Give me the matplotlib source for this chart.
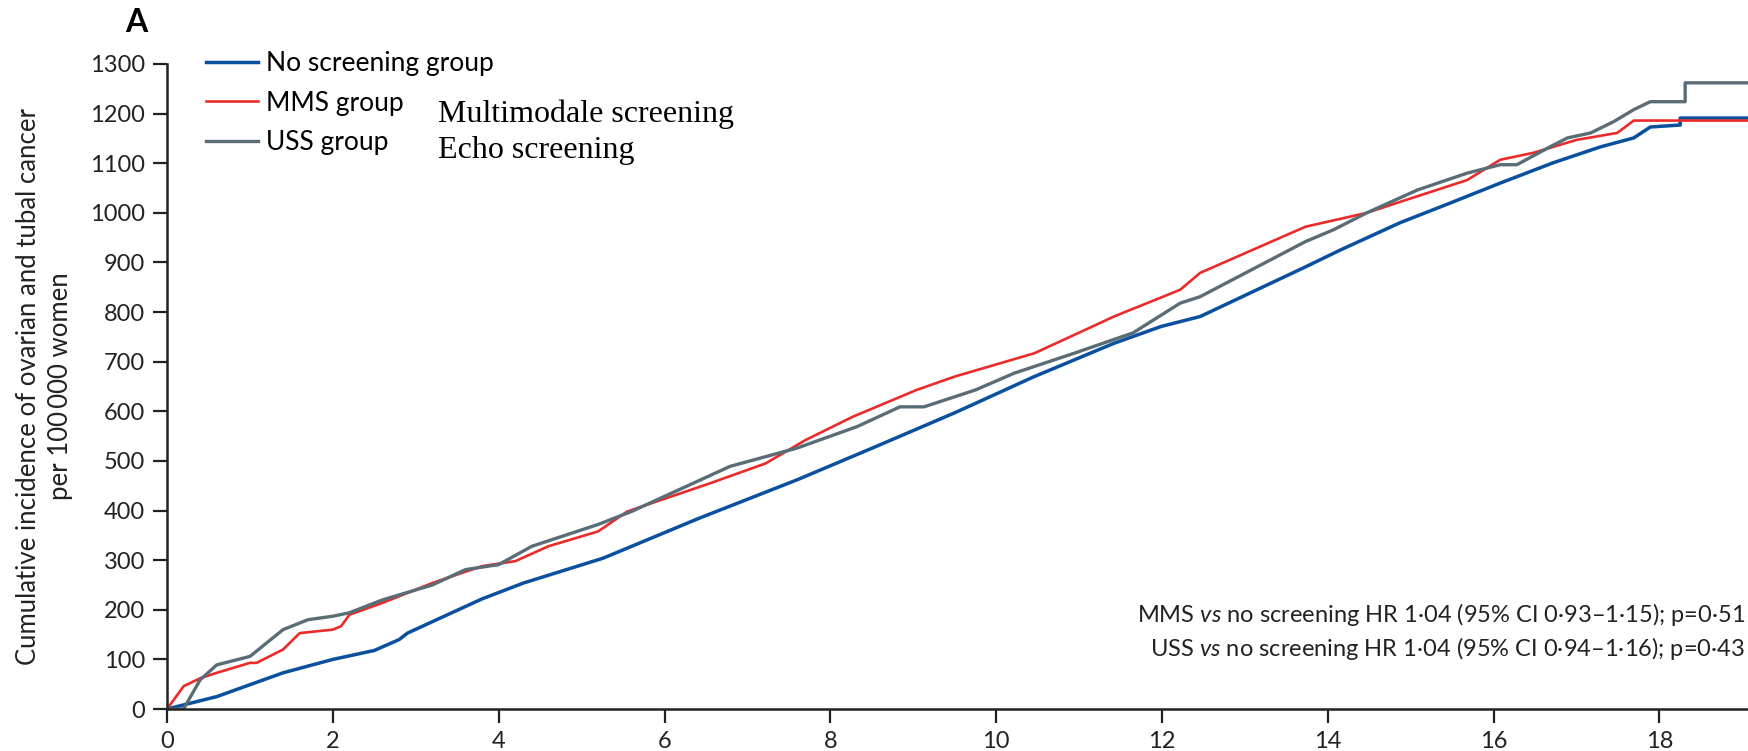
import matplotlib
matplotlib.use('Agg')
import matplotlib.pyplot as plt

# Cumulative incidence per 100 000 women
no_t = [0, 0.6, 1.4, 2.0, 2.5, 2.8, 2.9, 3.8, 4.3, 5.26, 6.41, 7.6, 8.55,
        9.5, 10.46, 11.42, 11.99, 12.46, 13.73, 14.15, 14.87, 15.48, 16.08,
        16.72, 17.29, 17.69, 17.89, 18.25, 18.25, 19.08]
no_y = [0, 25, 73, 100, 118, 140, 153, 222, 254, 304, 384, 462, 529,
        597, 670, 737, 771, 791, 891, 925, 980, 1020, 1060,
        1101, 1133, 1151, 1173, 1177, 1191, 1191]

mms_t = [0, 0.2, 0.4, 0.6, 1.0, 1.08, 1.4, 1.6, 2.0, 2.1, 2.2, 2.6, 3.2, 3.8,
         4.2, 4.6, 5.2, 5.55, 6.55, 7.22, 7.7, 8.27, 9.04, 9.5, 10.46, 10.89,
         11.42, 12.22, 12.46, 13.73, 14.47, 14.87, 15.68, 16.08, 16.48, 16.72,
         17.0, 17.49, 17.69, 19.08]
mms_y = [0, 46, 62, 73, 93, 93, 120, 153, 160, 167, 190, 214, 254, 288,
         298, 328, 358, 398, 455, 495, 542, 589, 643, 670, 717, 750,
         791, 845, 879, 972, 1000, 1022, 1066, 1107, 1121, 1133,
         1147, 1161, 1186, 1186]

uss_t = [0, 0.2, 0.24, 0.4, 0.6, 1.0, 1.2, 1.4, 1.7, 2.0, 2.2, 2.6, 3.2, 3.6,
         4.0, 4.4, 5.2, 5.6, 6.79, 7.6, 8.32, 8.84, 9.13, 9.75, 10.22, 10.94,
         11.65, 12.22, 12.46, 13.73, 14.07, 14.47, 15.08, 15.68, 16.08, 16.28,
         16.68, 16.89, 17.17, 17.45, 17.69, 17.89, 18.31, 18.31, 19.08]
uss_y = [0, 0, 12, 59, 89, 106, 133, 160, 180, 187, 194, 220, 250, 281,
         291, 328, 372, 398, 489, 526, 569, 609, 609, 643, 677, 717,
         758, 818, 831, 942, 966, 1000, 1046, 1080, 1097, 1097,
         1133, 1151, 1161, 1184, 1208, 1224, 1224, 1262, 1262]

labels = ['No screening group', 'MMS group', 'USS group']
x_ticks = list(range(0, 19, 2))
y_ticks = list(range(0, 1301, 100))

plt.rcParams['font.family'] = ['Lato', 'DejaVu Sans']
plt.rcParams['mathtext.fontset'] = 'custom'
plt.rcParams['mathtext.rm'] = 'Lato'
plt.rcParams['mathtext.it'] = 'Lato:italic'

fig = plt.figure(figsize=(17.49, 7.51), dpi=100)
ax = fig.add_axes([0.0955, 0.0559, 0.9045, 0.8589])

# Plot curves
ax.plot(no_t, no_y, color='#0b4f9f', lw=2.5, label=labels[0])
ax.plot(mms_t, mms_y, color='#ec2a2a', lw=1.9, label=labels[1])
ax.plot(uss_t, uss_y, color='#5a6c75', lw=2.4, label=labels[2])

ax.set_xlim(0, 19.08)
ax.set_ylim(0, 1300)
ax.set_xticks(x_ticks)
ax.set_yticks(y_ticks)
ax.tick_params(direction='out', length=10, width=1.6, labelsize=17,
               color='#222222', labelcolor='#222222', pad=6)
for side in ['top', 'right']:
    ax.spines[side].set_visible(False)
for side in ['left', 'bottom']:
    ax.spines[side].set_linewidth(1.8)
    ax.spines[side].set_color('#222222')

ax.set_ylabel('Cumulative incidence of ovarian and tubal cancer\nper 100\u2009000 women',
              fontsize=18.5, color='#222222', labelpad=12, linespacing=1.35)

# Legend
ax.legend(loc='upper left', bbox_to_anchor=(0.118, 0.932),
          bbox_transform=fig.transFigure, frameon=False, fontsize=19,
          handlelength=1.95, handletextpad=0.3, labelspacing=0.55,
          borderpad=0, borderaxespad=0)

# Extra annotations
fig.text(0.2505, 0.848, 'Multimodale screening', family='Liberation Serif',
         fontsize=23, va='center', ha='left')
fig.text(0.2505, 0.799, 'Echo screening', family='Liberation Serif',
         fontsize=23, va='center', ha='left')

fig.text(0.078, 0.970, 'A', fontsize=23, fontweight='bold', va='center', ha='center')

fig.text(0.998, 1 - 614 / 751,
         'MMS $\\mathit{vs}$ no screening HR 1\u00b704 (95% CI 0\u00b793\u20131\u00b715); p=0\u00b751',
         fontsize=17, ha='right', va='center', color='#222222')
fig.text(0.998, 1 - 648 / 751,
         'USS $\\mathit{vs}$ no screening HR 1\u00b704 (95% CI 0\u00b794\u20131\u00b716); p=0\u00b743',
         fontsize=17, ha='right', va='center', color='#222222')

fig.savefig('out.png', dpi=100)
